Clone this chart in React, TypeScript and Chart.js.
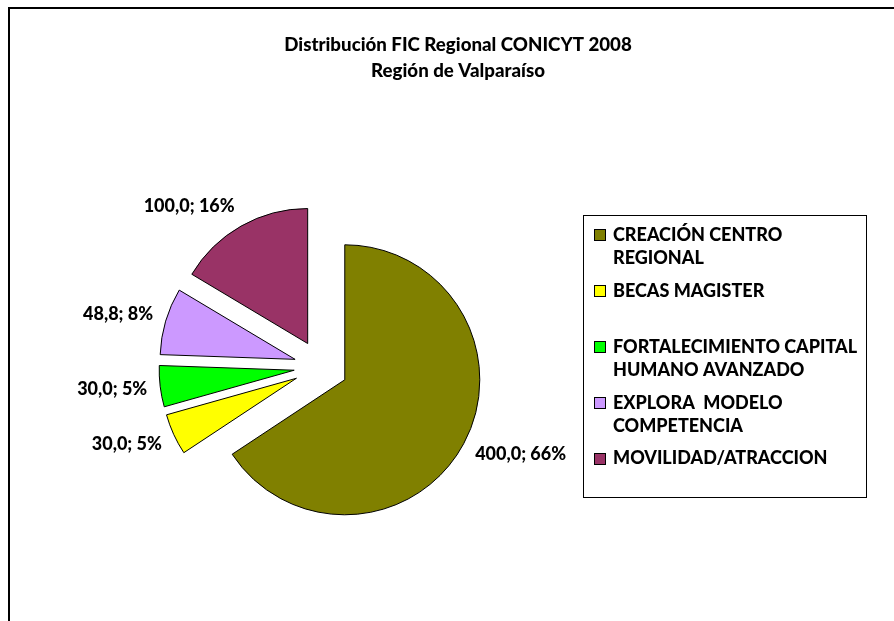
import React, { useEffect, useRef } from 'react';
import { Chart, registerables } from 'chart.js';

Chart.register(...registerables);

// ---- data ----
const TITLE_LINES = ['Distribución FIC Regional CONICYT 2008', 'Región de Valparaíso'];
const CATEGORIES = [
  ['CREACIÓN CENTRO', 'REGIONAL'],
  ['BECAS MAGISTER'],
  ['FORTALECIMIENTO CAPITAL', 'HUMANO AVANZADO'],
  ['EXPLORA  MODELO', 'COMPETENCIA'],
  ['MOVILIDAD/ATRACCION'],
];
const VALUES = [400.0, 30.0, 30.0, 48.8, 100.0];
const COLORS = ['#808000', '#FFFF00', '#00FF00', '#CC99FF', '#993366'];

// ---- style ----
const FONT = 'Lato, "Open Sans", sans-serif';
const WEIGHT = '900';
const EXPLODE = 27;
const RADIUS = 135;
const LABEL_GAP = 13;

const fmtValue = (v: number) => v.toFixed(1).replace('.', ',');

const framePlugin = {
  id: 'frame',
  beforeDraw(chart: any) {
    const ctx = chart.ctx;
    ctx.save();
    ctx.fillStyle = '#ffffff';
    ctx.fillRect(0, 0, chart.width, chart.height);
    ctx.fillStyle = '#000000';
    ctx.fillRect(8, 7, 2, chart.height);
    ctx.fillRect(8, 7, chart.width, 2);
    ctx.restore();
  },
};

const explodePlugin = {
  id: 'explode',
  beforeDatasetsDraw(chart: any) {
    const ctx = chart.ctx;
    const meta = chart.getDatasetMeta(0);
    meta.data.forEach((arc: any) => {
      const mid = (arc.startAngle + arc.endAngle) / 2;
      ctx.save();
      ctx.translate(Math.cos(mid) * EXPLODE, Math.sin(mid) * EXPLODE);
      arc.draw(ctx);
      ctx.restore();
    });
    return false;
  },
};

const overlayPlugin = {
  id: 'overlay',
  afterDraw(chart: any) {
    const ctx = chart.ctx;
    ctx.save();

    // slice labels
    const meta = chart.getDatasetMeta(0);
    const data: number[] = chart.data.datasets[0].data;
    const total = data.reduce((a, b) => a + b, 0);
    ctx.font = `${WEIGHT} 18px ${FONT}`;
    ctx.fillStyle = '#000';
    ctx.textAlign = 'center';
    ctx.textBaseline = 'middle';
    meta.data.forEach((arc: any, i: number) => {
      const mid = (arc.startAngle + arc.endAngle) / 2;
      const dx = Math.cos(mid);
      const dy = Math.sin(mid);
      const r = arc.outerRadius + EXPLODE + LABEL_GAP;
      const px = arc.x + dx * r;
      const py = arc.y + dy * r;
      const text = `${fmtValue(data[i])}; ${Math.round((data[i] / total) * 100)}%`;
      const w = ctx.measureText(text).width;
      const cx = px + (Math.sign(dx) * w) / 2;
      const cy = py + dy * 10;
      ctx.fillText(text, cx, cy);
    });

    // title
    ctx.fillStyle = '#000';
    ctx.font = `${WEIGHT} 18.7px ${FONT}`;
    ctx.textAlign = 'center';
    ctx.textBaseline = 'alphabetic';
    ctx.fillText(TITLE_LINES[0], 458, 51);
    ctx.fillText(TITLE_LINES[1], 458, 77);

    // legend box
    ctx.strokeStyle = '#000';
    ctx.lineWidth = 1;
    ctx.strokeRect(583.5, 215.5, 283, 282);

    const labels: string[][] = chart.data.labels;
    const colors: string[] = chart.data.datasets[0].backgroundColor;
    ctx.font = `${WEIGHT} 18px ${FONT}`;
    ctx.textAlign = 'left';
    labels.forEach((lines, i) => {
      const top = 229.3 + i * 55.9;
      ctx.fillStyle = colors[i];
      ctx.fillRect(594, Math.round(top), 12, 12);
      ctx.strokeStyle = '#000';
      ctx.strokeRect(594.5, Math.round(top) + 0.5, 11, 11);
      ctx.fillStyle = '#000';
      lines.forEach((ln, j) => {
        ctx.fillText(ln, 613, top + 11.5 + j * 23.4);
      });
    });
    ctx.restore();
  },
};

export default function App() {
  const ref = useRef<HTMLCanvasElement>(null);
  useEffect(() => {
    const chart = new Chart(ref.current as HTMLCanvasElement, {
      type: 'pie',
      data: {
        labels: CATEGORIES as any,
        datasets: [
          {
            data: VALUES,
            backgroundColor: COLORS,
            borderColor: '#000000',
            borderWidth: 1,
            radius: RADIUS,
          } as any,
        ],
      },
      options: {
        responsive: false,
        animation: false,
        devicePixelRatio: 1,
        events: [],
        layout: { padding: { left: 161, right: 413, top: 207, bottom: 94 } },
        plugins: {
          legend: { display: false },
          title: { display: false },
          tooltip: { enabled: false },
        },
      } as any,
      plugins: [framePlugin, explodePlugin, overlayPlugin],
    });
    return () => chart.destroy();
  }, []);
  return (
    <div
      style={{
        position: 'fixed',
        left: 0,
        top: 0,
        width: 894,
        height: 621,
        overflow: 'hidden',
        background: '#fff',
      }}
    >
      <canvas ref={ref} width={894} height={621} style={{ display: 'block', width: 894, height: 621 }} />
    </div>
  );
}
